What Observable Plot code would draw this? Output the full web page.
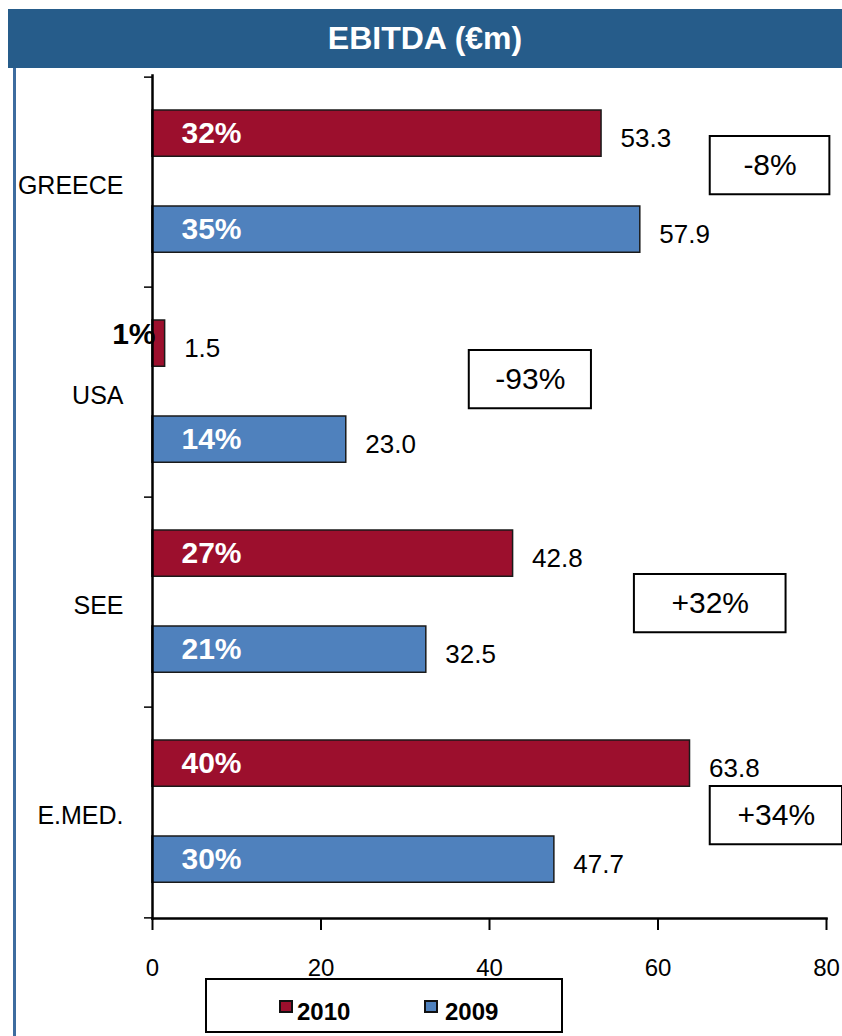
<!DOCTYPE html>
<html>
<head>
<meta charset="utf-8">
<script src="https://cdn.jsdelivr.net/npm/d3@7"></script>
<script src="https://cdn.jsdelivr.net/npm/@observablehq/plot@0.6"></script>
<style>
  html, body { margin: 0; padding: 0; background: #fff; width: 842px; height: 1036px; overflow: hidden; }
  body { position: relative; font-family: "Liberation Sans", Arial, sans-serif; }
  #title { position: absolute; left: 8px; top: 9px; width: 834px; height: 59px; background: #265c8a;
           color: #fff; font-weight: bold; font-size: 32px; line-height: 59px; text-align: center; }
  #leftline { position: absolute; left: 13px; top: 68px; width: 3px; height: 968px; background: #3d6c9f; }
  #chart { position: absolute; left: 0; top: 68px; }
  #legend { position: absolute; left: 205px; top: 978px; width: 354px; height: 51px; border: 2px solid #000; background: #fff; }
  .sw { position: absolute; width: 10px; height: 9px; border: 2px solid #111; }
  .lt { position: absolute; font-weight: bold; font-size: 24px; line-height: 24px; color: #000; }
</style>
</head>
<body>
<div id="title">EBITDA (€m)</div>
<div id="chart"></div>
<div id="leftline"></div>
<div id="legend"></div>
<script>
// ---- data ----
const categories = ["GREECE", "USA", "SEE", "E.MED."];
const ebitda2010 = [53.3, 1.5, 42.8, 63.8];
const ebitda2009 = [57.9, 23.0, 32.5, 47.7];
const margin2010 = ["32%", "1%", "27%", "40%"];
const margin2009 = ["35%", "14%", "21%", "30%"];
const changeLabels = ["-8%", "-93%", "+32%", "+34%"];
const xTicks = [0, 20, 40, 60, 80];
const years = ["2010", "2009"];
const colors = {"2010": "#9c0f2d", "2009": "#4f81bd"};

// ---- derived tables ----
const rows2010 = categories.map((c, i) => ({cat: c, value: ebitda2010[i], pct: margin2010[i]}));
const rows2009 = categories.map((c, i) => ({cat: c, value: ebitda2009[i], pct: margin2009[i]}));
const changes = categories.map((c, i) => ({cat: c, label: changeLabels[i]}));

// ---- layout ----
const W = 842, H = 910, mT = 7, mB = 60, mL = 152, mR = 16;
const bw = (H - mT - mB) / categories.length;
const barH = 47;
const top2010 = 33, top2009 = 129;
const c2010 = top2010 + barH / 2 - bw / 2;   // offset of 2010 bar centre from band centre
const c2009 = top2009 + barH / 2 - bw / 2;
// annotation boxes: x extent in data units, top offset within band, height px
const boxLayout = [
  {x1: 66.2, x2: 80.4, top: 59},
  {x1: 37.6, x2: 52.1, top: 63},
  {x1: 57.2, x2: 75.2, top: 77},
  {x1: 66.2, x2: 81.9, top: 79}
];
const boxH = 59;
const fmt = d3.format(".1f");
const pxPerUnit = (W - mL - mR) / 80;

const marks = [
  Plot.barX(rows2010, {x: "value", y: "cat", fill: colors["2010"], stroke: "#1a1a1a", strokeWidth: 1.5,
    insetTop: top2010, insetBottom: bw - top2010 - barH}),
  Plot.barX(rows2009, {x: "value", y: "cat", fill: colors["2009"], stroke: "#1a1a1a", strokeWidth: 1.5,
    insetTop: top2009, insetBottom: bw - top2009 - barH}),
  // value labels
  Plot.text(rows2010, {x: "value", y: "cat", text: d => fmt(d.value), dx: 19, dy: c2010 + 5,
    textAnchor: "start", fontSize: 26, fill: "#000"}),
  Plot.text(rows2009, {x: "value", y: "cat", text: d => fmt(d.value), dx: 19, dy: c2009 + 5,
    textAnchor: "start", fontSize: 26, fill: "#000"}),
  // margin labels inside bars
  Plot.text(rows2010.filter(d => d.value >= 5), {x: 0, y: "cat", text: "pct", dx: 29, dy: c2010,
    textAnchor: "start", fontSize: 30, fontWeight: "bold", fill: "#fff"}),
  Plot.text(rows2010.filter(d => d.value < 5), {x: 0, y: "cat", text: "pct", dx: 3, dy: c2010 - 9,
    textAnchor: "end", fontSize: 30, fontWeight: "bold", fill: "#000"}),
  Plot.text(rows2009, {x: 0, y: "cat", text: "pct", dx: 29, dy: c2009,
    textAnchor: "start", fontSize: 30, fontWeight: "bold", fill: "#fff"}),
  // axes
  Plot.frame({anchor: "left", stroke: "#000", strokeWidth: 2.5}),
  Plot.frame({anchor: "bottom", stroke: "#000", strokeWidth: 2.5}),
  Plot.ruleY(categories, {y: d => d, x1: -8 / pxPerUnit, x2: 0, dy: -bw / 2, stroke: "#000", strokeWidth: 1.5}),
  Plot.ruleY(categories.slice(-1), {y: d => d, x1: -8 / pxPerUnit, x2: 0, dy: bw / 2, stroke: "#000", strokeWidth: 1.5}),
  Plot.axisX({ticks: xTicks, tickSize: 12, tickPadding: 28, fontSize: 24, strokeWidth: 2, tickFormat: d => d, fill: "#000", label: null}),
  Plot.axisY({tickSize: 0, tickPadding: 29, fontSize: 25, dy: 3, fill: "#000", label: null})
];

// change annotation boxes
changes.forEach((d, i) => {
  const b = boxLayout[i];
  marks.push(Plot.rect([d], {x1: () => b.x1, x2: () => b.x2, y: "cat", fill: "#fff", stroke: "#000", strokeWidth: 2,
    insetTop: b.top, insetBottom: bw - b.top - boxH}));
  marks.push(Plot.text([d], {x: () => (b.x1 + b.x2) / 2, y: "cat", text: "label", dy: b.top + boxH / 2 - bw / 2,
    fontSize: 30, fill: "#000"}));
});

const chart = Plot.plot({
  width: W, height: H,
  marginTop: mT, marginBottom: mB, marginLeft: mL, marginRight: mR,
  x: {domain: [0, 80], label: null},
  y: {domain: categories, padding: 0, label: null},
  style: {fontFamily: "'Liberation Sans', Arial, sans-serif", background: "transparent", color: "#000", overflow: "visible"},
  marks
});
document.getElementById("chart").appendChild(chart);

// legend
const legend = document.getElementById("legend");
const legendPos = [{sw: 72, tx: 90}, {sw: 217, tx: 238}];
years.forEach((y, i) => {
  const s = document.createElement("div");
  s.className = "sw";
  s.style.left = legendPos[i].sw + "px";
  s.style.top = "20px";
  s.style.background = colors[y];
  legend.appendChild(s);
  const t = document.createElement("div");
  t.className = "lt";
  t.style.left = legendPos[i].tx + "px";
  t.style.top = "20px";
  t.textContent = y;
  legend.appendChild(t);
});
</script>
</body>
</html>
